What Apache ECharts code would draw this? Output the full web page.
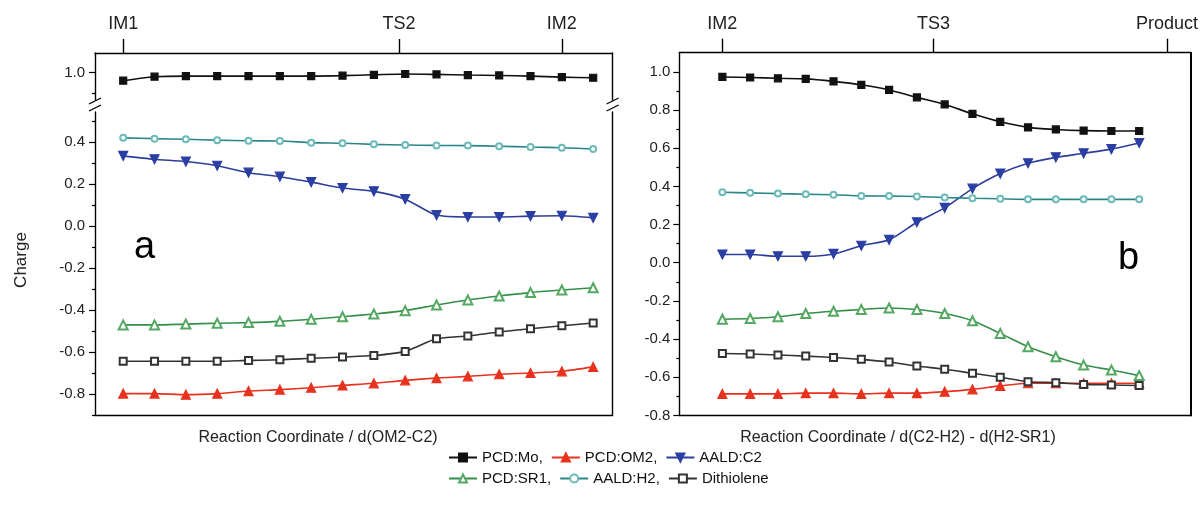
<!DOCTYPE html>
<html>
<head>
<meta charset="utf-8">
<script src="https://cdn.jsdelivr.net/npm/echarts@6/dist/echarts.min.js"></script>
<style>html,body{margin:0;padding:0;background:#fff}#c{width:1201px;height:505px}</style>
</head>
<body>
<div id="c"></div>
<script>
// ---- data ----
const steps = [0, 1, 2, 3, 4, 5, 6, 7, 8, 9, 10, 11, 12, 13, 14, 15];
const seriesNames = ['PCD:Mo', 'PCD:OM2', 'AALD:C2', 'PCD:SR1', 'AALD:H2', 'Dithiolene'];
const legendLabels = ['PCD:Mo,', 'PCD:OM2,', 'AALD:C2', 'PCD:SR1,', 'AALD:H2,', 'Dithiolene'];

// panel a
const aMo   = [0.962, 0.981, 0.984, 0.984, 0.984, 0.984, 0.984, 0.986, 0.990, 0.994, 0.992, 0.989, 0.987, 0.984, 0.979, 0.976];
const aOM2  = [-0.798, -0.798, -0.803, -0.798, -0.786, -0.779, -0.770, -0.759, -0.749, -0.735, -0.724, -0.716, -0.706, -0.700, -0.692, -0.671];
const aC2   = [0.334, 0.318, 0.307, 0.287, 0.254, 0.235, 0.209, 0.181, 0.165, 0.128, 0.052, 0.043, 0.043, 0.047, 0.049, 0.039];
const aSR1  = [-0.471, -0.471, -0.467, -0.463, -0.460, -0.454, -0.444, -0.432, -0.419, -0.403, -0.376, -0.352, -0.333, -0.317, -0.305, -0.294];
const aH2   = [0.420, 0.416, 0.413, 0.409, 0.406, 0.405, 0.397, 0.394, 0.389, 0.386, 0.384, 0.383, 0.380, 0.376, 0.373, 0.367];
const aDith = [-0.644, -0.644, -0.644, -0.644, -0.640, -0.637, -0.630, -0.624, -0.617, -0.597, -0.537, -0.524, -0.505, -0.489, -0.475, -0.462];

// panel b
const bMo   = [0.973, 0.970, 0.966, 0.963, 0.950, 0.932, 0.905, 0.866, 0.829, 0.780, 0.738, 0.709, 0.698, 0.692, 0.690, 0.690];
const bOM2  = [-0.687, -0.687, -0.687, -0.683, -0.683, -0.687, -0.683, -0.683, -0.675, -0.663, -0.645, -0.631, -0.631, -0.631, -0.631, -0.631];
const bC2   = [0.043, 0.043, 0.034, 0.034, 0.046, 0.089, 0.120, 0.212, 0.287, 0.388, 0.467, 0.521, 0.552, 0.573, 0.595, 0.627];
const bSR1  = [-0.296, -0.292, -0.283, -0.266, -0.254, -0.245, -0.237, -0.245, -0.266, -0.304, -0.370, -0.440, -0.492, -0.536, -0.562, -0.591];
const bH2   = [0.369, 0.366, 0.362, 0.359, 0.356, 0.350, 0.349, 0.347, 0.342, 0.338, 0.335, 0.332, 0.332, 0.332, 0.332, 0.332];
const bDith = [-0.475, -0.478, -0.483, -0.489, -0.496, -0.506, -0.520, -0.541, -0.558, -0.579, -0.600, -0.623, -0.628, -0.637, -0.640, -0.643];

// top-axis state markers
const aTopPos = [0, 8.8, 14];
const aTopLabels = ['IM1', 'TS2', 'IM2'];
const bTopPos = [0, 7.6, 16];
const bTopLabels = ['IM2', 'TS3', 'Product'];

// y tick labels
const aUpperTicks = [1.0];
const aUpperMinor = [0.9];
const aLowerTicks = [-0.8, -0.6, -0.4, -0.2, 0.0, 0.2, 0.4];
const aLowerMinor = [-0.9, -0.7, -0.5, -0.3, -0.1, 0.1, 0.3, 0.5];
const bTicks = [-0.8, -0.6, -0.4, -0.2, 0.0, 0.2, 0.4, 0.6, 0.8, 1.0];
const bMinor = [-0.7, -0.5, -0.3, -0.1, 0.1, 0.3, 0.5, 0.7, 0.9];

const xAxisTitleA = 'Reaction Coordinate / d(OM2-C2)';
const xAxisTitleB = 'Reaction Coordinate / d(C2-H2) - d(H2-SR1)';
const yAxisTitle = 'Charge';

// ---- build ----
const FONT = '"Liberation Sans", Arial, sans-serif';
const pair = arr => steps.map((s, i) => [s, arr[i]]);
const downTri = 'path://M0,0 L10,0 L5,9 Z';
const styles = {
  'PCD:Mo':     { symbol: 'rect', size: 7, line: '#111111', item: '#111111' },
  'PCD:OM2':    { symbol: 'triangle', size: 9, line: '#e8321e', item: '#e8321e' },
  'AALD:C2':    { symbol: downTri, size: 9, line: '#2d3d9c', item: '#2b3ea3' },
  'PCD:SR1':    { symbol: 'emptyTriangle', size: 9, line: '#358f48', item: '#55a862' },
  'AALD:H2':    { symbol: 'emptyCircle', size: 6, line: '#2a8585', item: '#6cbaba' },
  'Dithiolene': { symbol: 'emptyRect', size: 7, line: '#333333', item: '#333333' }
};
function mk(name, data, xi, yi) {
  const s = styles[name];
  return {
    type: 'line', name: name, xAxisIndex: xi, yAxisIndex: yi,
    data: pair(data), symbol: s.symbol, symbolSize: s.size, smooth: 0.25,
    lineStyle: { color: s.line, width: 1.6 },
    itemStyle: { color: s.item, borderColor: s.item, borderWidth: 1.2 },
    emphasis: { disabled: true }, z: 3
  };
}
const AX = { onZero: false, lineStyle: { color: '#000', width: 1.4 } };
const AXR = { onZero: false, lineStyle: { color: '#000', width: 2 } };
const NOLINE = { show: false, onZero: false };
const LBL = { color: '#222', fontSize: 15, fontFamily: FONT };
const fmt1 = v => v.toFixed(1);

const aXmin = -0.9, aXmax = 15.62, bXmin = -1.55, bXmax = 16.84;

const option = {
  animation: false,
  backgroundColor: '#fff',
  grid: [
    { left: 95, width: 517.6, top: 53, height: 47 },
    { left: 95, width: 517.6, top: 112, height: 303 },
    { left: 679.3, width: 515.7, top: 52.7, height: 362.8 }
  ],
  xAxis: [
    { gridIndex: 0, type: 'value', position: 'top', min: aXmin, max: aXmax, axisLine: AX,
      axisTick: { show: true, customValues: aTopPos, length: 14, inside: false, lineStyle: { color: '#000', width: 1.4 } },
      axisLabel: { show: true, customValues: aTopPos, margin: 20, color: '#222', fontSize: 18, fontFamily: FONT,
        formatter: v => aTopLabels[aTopPos.indexOf(v)] },
      splitLine: { show: false } },
    { gridIndex: 1, type: 'value', position: 'bottom', min: aXmin, max: aXmax, axisLine: AX,
      axisTick: { show: false }, axisLabel: { show: false }, splitLine: { show: false } },
    { gridIndex: 2, type: 'value', position: 'top', min: bXmin, max: bXmax, axisLine: AX,
      axisTick: { show: true, customValues: bTopPos, length: 14, inside: false, lineStyle: { color: '#000', width: 1.4 } },
      axisLabel: { show: true, customValues: bTopPos, margin: 20, color: '#222', fontSize: 18, fontFamily: FONT,
        formatter: v => bTopLabels[bTopPos.indexOf(v)] },
      splitLine: { show: false } },
    { gridIndex: 2, type: 'value', position: 'bottom', min: bXmin, max: bXmax, axisLine: AX,
      axisTick: { show: false }, axisLabel: { show: false }, splitLine: { show: false } }
  ],
  yAxis: [
    { gridIndex: 0, type: 'value', position: 'left', min: 0.87, max: 1.094, axisLine: AX,
      axisTick: { customValues: aUpperTicks, length: 6, lineStyle: { color: '#000', width: 1.2 } },
      axisLabel: Object.assign({ customValues: aUpperTicks, margin: 10, formatter: fmt1 }, LBL), splitLine: { show: false } },
    { gridIndex: 0, type: 'value', position: 'left', min: 0.87, max: 1.094, axisLine: NOLINE,
      axisTick: { customValues: aUpperMinor, length: 3, lineStyle: { color: '#000', width: 1.2 } },
      axisLabel: { show: false }, splitLine: { show: false } },
    { gridIndex: 0, type: 'value', position: 'right', min: 0.87, max: 1.094, axisLine: AX,
      axisTick: { show: false }, axisLabel: { show: false }, splitLine: { show: false } },
    { gridIndex: 1, type: 'value', position: 'left', min: -0.9, max: 0.543, axisLine: AX,
      axisTick: { customValues: aLowerTicks, length: 6, lineStyle: { color: '#000', width: 1.2 } },
      axisLabel: Object.assign({ customValues: aLowerTicks, margin: 10, formatter: fmt1 }, LBL), splitLine: { show: false } },
    { gridIndex: 1, type: 'value', position: 'left', min: -0.9, max: 0.543, axisLine: NOLINE,
      axisTick: { customValues: aLowerMinor, length: 3, lineStyle: { color: '#000', width: 1.2 } },
      axisLabel: { show: false }, splitLine: { show: false } },
    { gridIndex: 1, type: 'value', position: 'right', min: -0.9, max: 0.543, axisLine: AX,
      axisTick: { show: false }, axisLabel: { show: false }, splitLine: { show: false } },
    { gridIndex: 2, type: 'value', position: 'left', min: -0.8, max: 1.1, axisLine: AX,
      axisTick: { customValues: bTicks, length: 6, lineStyle: { color: '#000', width: 1.2 } },
      axisLabel: Object.assign({ customValues: bTicks, margin: 9, formatter: fmt1 }, LBL), splitLine: { show: false } },
    { gridIndex: 2, type: 'value', position: 'left', min: -0.8, max: 1.1, axisLine: NOLINE,
      axisTick: { customValues: bMinor, length: 3, lineStyle: { color: '#000', width: 1.2 } },
      axisLabel: { show: false }, splitLine: { show: false } },
    { gridIndex: 2, type: 'value', position: 'right', min: -0.8, max: 1.1, axisLine: AXR,
      axisTick: { show: false }, axisLabel: { show: false }, splitLine: { show: false } }
  ],
  legend: [
    { data: seriesNames.slice(0, 3), left: 448, top: 450, padding: 0, itemWidth: 28, itemHeight: 10, itemGap: 8,
      selectedMode: false, textStyle: { fontSize: 15, color: '#111', fontFamily: FONT },
      formatter: n => legendLabels[seriesNames.indexOf(n)] },
    { data: seriesNames.slice(3), left: 448, top: 471, padding: 0, itemWidth: 28, itemHeight: 10, itemGap: 8,
      selectedMode: false, textStyle: { fontSize: 15, color: '#111', fontFamily: FONT },
      formatter: n => legendLabels[seriesNames.indexOf(n)] }
  ],
  series: [
    mk('PCD:Mo', aMo, 0, 0),
    mk('PCD:OM2', aOM2, 1, 3),
    mk('AALD:C2', aC2, 1, 3),
    mk('PCD:SR1', aSR1, 1, 3),
    mk('AALD:H2', aH2, 1, 3),
    mk('Dithiolene', aDith, 1, 3),
    mk('PCD:Mo', bMo, 2, 6),
    mk('PCD:OM2', bOM2, 2, 6),
    mk('AALD:C2', bC2, 2, 6),
    mk('PCD:SR1', bSR1, 2, 6),
    mk('AALD:H2', bH2, 2, 6),
    mk('Dithiolene', bDith, 2, 6)
  ],
  graphic: [
    { type: 'line', shape: { x1: 89, y1: 104, x2: 101, y2: 98 }, style: { stroke: '#000', lineWidth: 1.3 } },
    { type: 'line', shape: { x1: 89, y1: 111, x2: 101, y2: 105 }, style: { stroke: '#000', lineWidth: 1.3 } },
    { type: 'line', shape: { x1: 606.6, y1: 104, x2: 618.6, y2: 98 }, style: { stroke: '#000', lineWidth: 1.3 } },
    { type: 'line', shape: { x1: 606.6, y1: 111, x2: 618.6, y2: 105 }, style: { stroke: '#000', lineWidth: 1.3 } },
    { type: 'text', x: 134, y: 267, style: { text: 'a', font: '38px ' + FONT, fill: '#000', textAlign: 'left', textVerticalAlign: 'bottom', align: 'left', verticalAlign: 'bottom' } },
    { type: 'text', x: 1118, y: 278, style: { text: 'b', font: '38px ' + FONT, fill: '#000', textAlign: 'left', textVerticalAlign: 'bottom', align: 'left', verticalAlign: 'bottom' } },
    { type: 'text', x: 21, y: 260, rotation: Math.PI / 2, style: { text: yAxisTitle, font: '17px ' + FONT, fill: '#222', textAlign: 'center', textVerticalAlign: 'middle', align: 'center', verticalAlign: 'middle' } },
    { type: 'text', x: 318, y: 438, style: { text: xAxisTitleA, font: '16px ' + FONT, fill: '#222', textAlign: 'center', textVerticalAlign: 'middle', align: 'center', verticalAlign: 'middle' } },
    { type: 'text', x: 898, y: 438, style: { text: xAxisTitleB, font: '16px ' + FONT, fill: '#222', textAlign: 'center', textVerticalAlign: 'middle', align: 'center', verticalAlign: 'middle' } }
  ]
};
const chart = echarts.init(document.getElementById('c'), null, { renderer: 'canvas', width: 1201, height: 505 });
chart.setOption(option);
</script>
</body>
</html>
